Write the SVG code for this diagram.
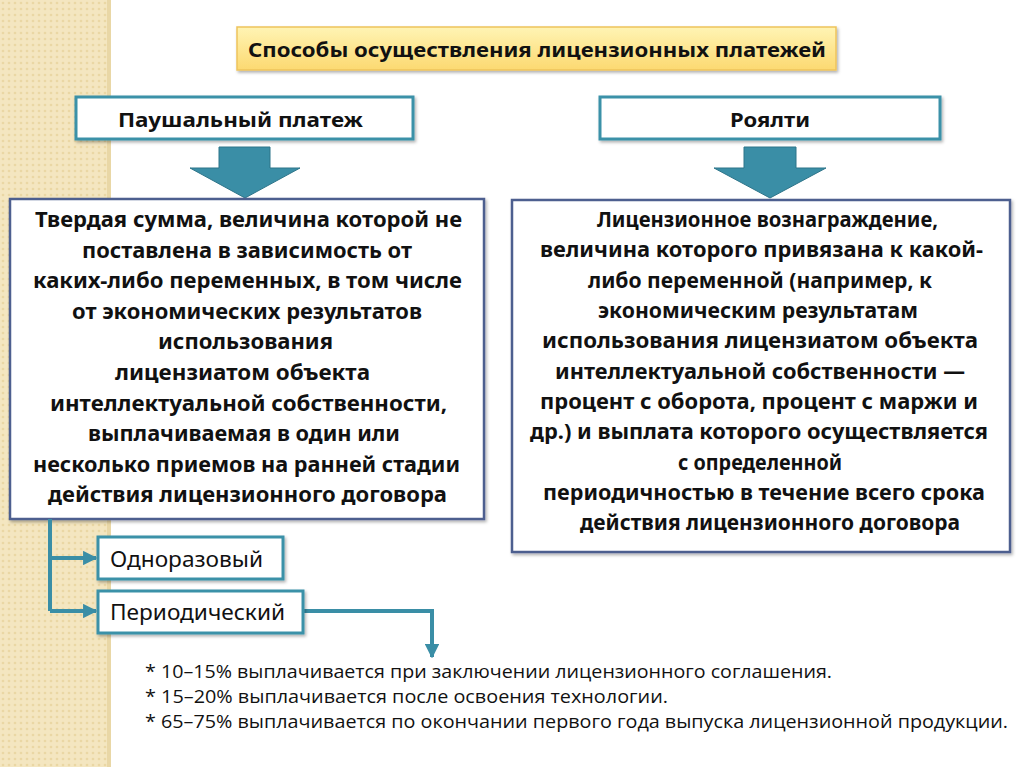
<svg xmlns="http://www.w3.org/2000/svg" width="1024" height="767" viewBox="0 0 1024 767">
<defs>
<pattern id="dots" width="6" height="6" patternUnits="userSpaceOnUse">
<rect width="6" height="6" fill="#f4e6c0"/>
<circle cx="3" cy="3" r="1.3" fill="#ead7a4"/>
</pattern>
<linearGradient id="gold" x1="0" y1="0" x2="0" y2="1">
<stop offset="0" stop-color="#fff4b4"/>
<stop offset="1" stop-color="#fcd971"/>
</linearGradient>
<filter id="sh" x="-5%" y="-10%" width="110%" height="130%">
<feDropShadow dx="1.5" dy="2" stdDeviation="1.5" flood-color="#000" flood-opacity="0.3"/>
</filter>
<marker id="ah" viewBox="0 0 10 10" refX="9" refY="5" markerWidth="3.6" markerHeight="3.6" orient="auto" markerUnits="strokeWidth">
<path d="M0,0 L10,5 L0,10 Z" fill="#3a8ea6"/>
</marker>
<style>
.teal{fill:#fff;stroke:#3a91a8;stroke-width:3}
.big{fill:#fff;stroke:#4d5f8f;stroke-width:2.5}
.bt{font-family:"Noto Sans","Open Sans",sans-serif;font-weight:bold;font-size:21px;fill:#111}
.ht{font-family:"Noto Sans","Open Sans",sans-serif;font-weight:bold;font-size:20px;fill:#111}
.rt{font-family:"Noto Sans","Open Sans",sans-serif;font-size:22px;fill:#111}
.ft{font-family:"Open Sans","Noto Sans",sans-serif;font-size:19px;fill:#111}
.arr{fill:#3a8ea6;stroke:#2d7489;stroke-width:1}
.con{fill:none;stroke:#3a8ea6;stroke-width:4}
</style>
</defs>
<rect width="1024" height="767" fill="#fff"/>
<rect x="0" y="0" width="110" height="767" fill="url(#dots)"/>
<rect x="107" y="0" width="4" height="767" fill="#e9d7a6"/>

<g id="title">
<rect x="237" y="27" width="599" height="43" fill="url(#gold)" stroke="#eec35c" stroke-width="1.5" filter="url(#sh)"/>
<text class="ht" x="248" y="57" font-size="22" textLength="578" lengthAdjust="spacingAndGlyphs">Способы осуществления лицензионных платежей</text>
</g>

<g id="lump">
<rect class="teal" x="76" y="97" width="337" height="42" filter="url(#sh)"/>
<text class="ht" x="118" y="127" textLength="245" lengthAdjust="spacingAndGlyphs">Паушальный платеж</text>
</g>

<g id="royalty">
<rect class="teal" x="600" y="97" width="340" height="42" filter="url(#sh)"/>
<text class="ht" x="730" y="127" textLength="80" lengthAdjust="spacingAndGlyphs">Роялти</text>
</g>

<g id="arrow-left">
<path class="arr" d="M219,147 H270 V168 H300 L245,198 L190,168 H219 Z"/>
</g>
<g id="arrow-right">
<path class="arr" d="M744,147 H796 V168 H826 L770,198 L714,168 H744 Z"/>
</g>

<g id="lump-desc">
<rect class="big" x="10" y="199" width="474" height="320" filter="url(#sh)"/>
<text class="bt" x="35" y="227" textLength="427" lengthAdjust="spacingAndGlyphs">Твердая сумма, величина которой не</text>
<text class="bt" x="82" y="258" textLength="330" lengthAdjust="spacingAndGlyphs">поставлена в зависимость от</text>
<text class="bt" x="33" y="288" textLength="429" lengthAdjust="spacingAndGlyphs">каких-либо переменных, в том числе</text>
<text class="bt" x="72" y="319" textLength="350" lengthAdjust="spacingAndGlyphs">от экономических результатов</text>
<text class="bt" x="158" y="349" textLength="175" lengthAdjust="spacingAndGlyphs">использования</text>
<text class="bt" x="115" y="380" textLength="255" lengthAdjust="spacingAndGlyphs">лицензиатом объекта</text>
<text class="bt" x="50" y="411" textLength="397" lengthAdjust="spacingAndGlyphs">интеллектуальной собственности,</text>
<text class="bt" x="88" y="441" textLength="312" lengthAdjust="spacingAndGlyphs">выплачиваемая в один или</text>
<text class="bt" x="33" y="472" textLength="427" lengthAdjust="spacingAndGlyphs">несколько приемов на ранней стадии</text>
<text class="bt" x="48" y="502" textLength="399" lengthAdjust="spacingAndGlyphs">действия лицензионного договора</text>
</g>

<g id="royalty-desc">
<rect class="big" x="512" y="200" width="498" height="352" filter="url(#sh)"/>
<text class="bt" x="597" y="227" textLength="341" lengthAdjust="spacingAndGlyphs">Лицензионное вознаграждение,</text>
<text class="bt" x="540" y="257" textLength="443" lengthAdjust="spacingAndGlyphs">величина которого привязана к какой-</text>
<text class="bt" x="588" y="288" textLength="344" lengthAdjust="spacingAndGlyphs">либо переменной (например, к</text>
<text class="bt" x="598" y="318" textLength="320" lengthAdjust="spacingAndGlyphs">экономическим результатам</text>
<text class="bt" x="542" y="348" textLength="436" lengthAdjust="spacingAndGlyphs">использования лицензиатом объекта</text>
<text class="bt" x="555" y="379" textLength="410" lengthAdjust="spacingAndGlyphs">интеллектуальной собственности —</text>
<text class="bt" x="540" y="409" textLength="438" lengthAdjust="spacingAndGlyphs">процент с оборота, процент с маржи и</text>
<text class="bt" x="530" y="439" textLength="458" lengthAdjust="spacingAndGlyphs">др.) и выплата которого осуществляется</text>
<text class="bt" x="678" y="470" textLength="164" lengthAdjust="spacingAndGlyphs">с определенной</text>
<text class="bt" x="543" y="500" textLength="442" lengthAdjust="spacingAndGlyphs">периодичностью в течение всего срока</text>
<text class="bt" x="580" y="530" textLength="380" lengthAdjust="spacingAndGlyphs">действия лицензионного договора</text>
</g>

<g id="connectors">
<path class="con" d="M50,519 V611"/>
<path class="con" d="M50,558 H96" marker-end="url(#ah)"/>
<path class="con" d="M50,611 H96" marker-end="url(#ah)"/>
<path class="con" d="M303,611 H432 V657" marker-end="url(#ah)"/>
</g>

<g id="one-time">
<rect class="teal" x="98" y="537" width="185" height="42" filter="url(#sh)"/>
<text class="rt" x="110" y="567" textLength="153" lengthAdjust="spacingAndGlyphs">Одноразовый</text>
</g>

<g id="periodic">
<rect class="teal" x="98" y="591" width="205" height="42" filter="url(#sh)"/>
<text class="rt" x="110" y="620" textLength="175" lengthAdjust="spacingAndGlyphs">Периодический</text>
</g>

<g id="notes">
<text class="ft" x="145" y="678" textLength="687" lengthAdjust="spacingAndGlyphs">* 10–15% выплачивается при заключении лицензионного соглашения.</text>
<text class="ft" x="145" y="703" textLength="523" lengthAdjust="spacingAndGlyphs">* 15–20% выплачивается после освоения технологии.</text>
<text class="ft" x="145" y="728" textLength="863" lengthAdjust="spacingAndGlyphs">* 65–75% выплачивается по окончании первого года выпуска лицензионной продукции.</text>
</g>
</svg>
